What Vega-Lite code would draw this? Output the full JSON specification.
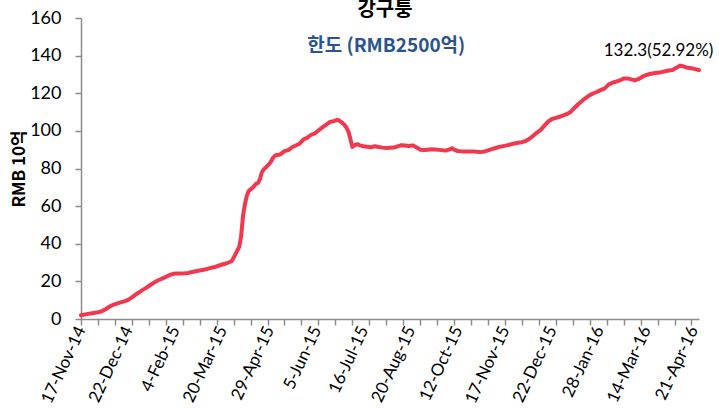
{
  "$schema": "https://vega.github.io/schema/vega-lite/v6.json",
  "width": 618,
  "height": 301,
  "autosize": {"type": "none"},
  "padding": {"left": 81, "top": 18, "right": 20, "bottom": 90},
  "background": "white",
  "title": {"text": "강구퉁", "anchor": "middle", "font": "Noto Sans CJK KR", "fontSize": 20, "fontWeight": "bold", "color": "#000000", "offset": -11, "dx": -5},
  "config": {
    "view": {"stroke": null},
    "axis": {"grid": false, "domainColor": "#8C8C8C", "domainWidth": 1.5, "tickColor": "#8C8C8C", "tickWidth": 1.5, "labelColor": "#000000", "labelFont": "Lato", "labelFontSize": 18, "titleColor": "#000000"}
  },
  "resolve": {"axis": {"x": "independent", "y": "independent"}},
  "layer": [
    {
      "data": {"values": [
        {"i":0,"v":2.0},{"i":3,"v":2.6},{"i":6,"v":3.1},{"i":9,"v":3.6},{"i":11,"v":4.1},{"i":13,"v":5.2},{"i":15,"v":6.5},{"i":17,"v":7.5},{"i":19,"v":8.2},{"i":21,"v":8.8},{"i":23,"v":9.4},{"i":25,"v":10.2},{"i":27,"v":11.5},{"i":29,"v":13.0},{"i":31,"v":14.3},{"i":33,"v":15.6},{"i":35,"v":16.8},{"i":37,"v":18.2},{"i":39,"v":19.5},{"i":41,"v":20.6},{"i":43,"v":21.5},{"i":45,"v":22.4},{"i":47,"v":23.4},{"i":49,"v":24.0},{"i":51,"v":24.2},{"i":53,"v":24.2},{"i":55,"v":24.3},{"i":57,"v":24.5},{"i":59,"v":25.0},{"i":61,"v":25.4},{"i":63,"v":25.8},{"i":65,"v":26.2},{"i":67,"v":26.6},{"i":69,"v":27.2},{"i":71,"v":27.6},{"i":73,"v":28.3},{"i":75,"v":29.0},{"i":77,"v":29.5},{"i":79,"v":30.3},{"i":80,"v":30.8},{"i":81,"v":32.5},{"i":82,"v":34.5},{"i":83,"v":36.5},{"i":84,"v":38.5},{"i":85,"v":44.0},{"i":86,"v":55.0},{"i":87,"v":61.0},{"i":88,"v":65.5},{"i":89,"v":68.0},{"i":90,"v":69.0},{"i":91,"v":69.6},{"i":92,"v":70.8},{"i":93,"v":72.0},{"i":94,"v":72.4},{"i":95,"v":74.5},{"i":96,"v":78.0},{"i":97,"v":79.5},{"i":98,"v":80.5},{"i":99,"v":81.5},{"i":100,"v":82.5},{"i":101,"v":84.0},{"i":102,"v":85.8},{"i":103,"v":86.8},{"i":104,"v":87.2},{"i":105,"v":87.3},{"i":106,"v":87.6},{"i":107,"v":88.5},{"i":108,"v":89.2},{"i":110,"v":89.8},{"i":112,"v":91.3},{"i":114,"v":92.2},{"i":116,"v":93.2},{"i":118,"v":95.4},{"i":120,"v":96.3},{"i":122,"v":97.8},{"i":124,"v":98.6},{"i":126,"v":100.2},{"i":128,"v":101.8},{"i":130,"v":103.2},{"i":132,"v":104.7},{"i":134,"v":105.2},{"i":136,"v":105.8},{"i":137,"v":105.5},{"i":138,"v":104.8},{"i":139,"v":104.0},{"i":140,"v":103.0},{"i":141,"v":101.5},{"i":142,"v":99.5},{"i":143,"v":95.5},{"i":144,"v":91.5},{"i":145,"v":92.2},{"i":146,"v":92.8},{"i":147,"v":92.9},{"i":148,"v":92.3},{"i":150,"v":91.8},{"i":152,"v":91.6},{"i":154,"v":91.3},{"i":156,"v":91.8},{"i":158,"v":91.4},{"i":160,"v":91.1},{"i":162,"v":90.9},{"i":164,"v":91.0},{"i":166,"v":91.1},{"i":168,"v":91.8},{"i":170,"v":92.4},{"i":172,"v":92.2},{"i":174,"v":92.0},{"i":176,"v":92.3},{"i":178,"v":91.3},{"i":180,"v":90.0},{"i":182,"v":89.8},{"i":184,"v":90.0},{"i":186,"v":90.2},{"i":188,"v":90.1},{"i":190,"v":89.9},{"i":192,"v":89.7},{"i":194,"v":89.6},{"i":196,"v":90.3},{"i":197,"v":90.8},{"i":198,"v":90.0},{"i":200,"v":89.3},{"i":202,"v":89.1},{"i":204,"v":89.0},{"i":206,"v":89.1},{"i":208,"v":89.1},{"i":210,"v":88.9},{"i":212,"v":88.7},{"i":214,"v":89.0},{"i":216,"v":89.6},{"i":218,"v":90.3},{"i":220,"v":90.9},{"i":222,"v":91.5},{"i":224,"v":91.9},{"i":226,"v":92.3},{"i":228,"v":92.8},{"i":230,"v":93.3},{"i":232,"v":93.7},{"i":234,"v":94.0},{"i":236,"v":94.6},{"i":238,"v":95.8},{"i":240,"v":97.4},{"i":242,"v":99.1},{"i":244,"v":100.5},{"i":246,"v":102.8},{"i":248,"v":105.0},{"i":250,"v":106.3},{"i":252,"v":106.9},{"i":254,"v":107.5},{"i":256,"v":108.2},{"i":258,"v":109.0},{"i":260,"v":110.2},{"i":262,"v":112.3},{"i":264,"v":114.3},{"i":266,"v":116.0},{"i":268,"v":117.6},{"i":270,"v":119.0},{"i":272,"v":120.0},{"i":274,"v":120.8},{"i":276,"v":121.8},{"i":278,"v":122.6},{"i":280,"v":124.6},{"i":282,"v":125.6},{"i":284,"v":126.2},{"i":286,"v":126.8},{"i":288,"v":127.8},{"i":290,"v":127.9},{"i":292,"v":127.4},{"i":294,"v":126.8},{"i":296,"v":127.6},{"i":298,"v":128.8},{"i":300,"v":129.7},{"i":302,"v":130.2},{"i":304,"v":130.6},{"i":306,"v":130.9},{"i":308,"v":131.2},{"i":310,"v":131.7},{"i":312,"v":132.1},{"i":314,"v":132.4},{"i":316,"v":133.6},{"i":318,"v":134.7},{"i":320,"v":134.2},{"i":322,"v":133.5},{"i":324,"v":133.3},{"i":326,"v":132.8},{"i":328,"v":132.3}
      ]},
      "mark": {"type": "line", "color": "#F2384F", "strokeWidth": 4, "strokeJoin": "round", "strokeCap": "round"},
      "encoding": {
        "x": {
          "field": "i", "type": "quantitative",
          "scale": {"domain": [0, 328], "nice": false, "zero": false},
          "axis": {
            "title": null,
            "values": [0,9,18,25,27,36,45,50,54,63,72,75,81,90,99,100,108,117,125,126,135,144,150,153,162,171,175,180,189,198,200,207,216,225,234,243,250,252,261,270,275,279,288,297,300,306,315,324,325],
            "tickSize": 6,
            "tickOpacity": {"condition": {"test": "datum.value % 9 == 0", "value": 1}, "value": 0},
            "labelAngle": -65,
            "labelFontSize": 17,
            "labelPadding": 2,
            "labelDx": 7,
            "labelOverlap": false,
            "labelBound": false,
            "labelFlush": false,
            "labelExpr": "datum.value % 25 == 0 ? ['17-Nov-14','22-Dec-14','4-Feb-15','20-Mar-15','29-Apr-15','5-Jun-15','16-Jul-15','20-Aug-15','12-Oct-15','17-Nov-15','22-Dec-15','28-Jan-16','14-Mar-16','21-Apr-16'][datum.value / 25] : ''"
          }
        },
        "y": {
          "field": "v", "type": "quantitative",
          "scale": {"domain": [0, 160], "nice": false},
          "axis": {
            "title": "RMB 10억",
            "titleFont": "Noto Sans CJK KR",
            "titleFontSize": 17,
            "titleFontWeight": "bold",
            "titlePadding": 1,
            "values": [0,20,40,60,80,100,120,140,160],
            "labelOverlap": false,
            "tickSize": 6,
            "labelPadding": 14
          }
        }
      }
    },
    {
      "data": {"values": [{"label": "한도 (RMB2500억)"}]},
      "mark": {"type": "text", "font": "Noto Sans CJK KR", "fontSize": 19, "fontWeight": "bold", "color": "#2A5490", "align": "center", "baseline": "alphabetic"},
      "encoding": {
        "x": {"datum": 162, "type": "quantitative", "axis": null},
        "y": {"datum": 141.9, "type": "quantitative", "axis": null},
        "text": {"field": "label"}
      }
    },
    {
      "data": {"values": [{"label": "132.3(52.92%)"}]},
      "mark": {"type": "text", "font": "Lato", "fontSize": 17, "color": "#000000", "align": "center", "baseline": "alphabetic"},
      "encoding": {
        "x": {"datum": 306.5, "type": "quantitative", "axis": null},
        "y": {"datum": 139.8, "type": "quantitative", "axis": null},
        "text": {"field": "label"}
      }
    }
  ]
}
